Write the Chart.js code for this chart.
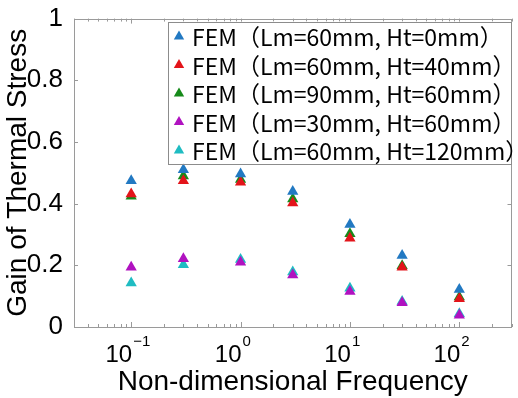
<!DOCTYPE html>
<html><head><meta charset="utf-8">
<script src="https://cdn.jsdelivr.net/npm/chart.js@4/dist/chart.umd.min.js"></script>
<style>html,body{margin:0;padding:0;background:#fff}canvas{display:block}</style>
</head><body>
<canvas id="c" width="518" height="398"></canvas>
<script>
const frequencies = [0.1, 0.3, 1, 3, 10, 30, 100];
const seriesLabels = [
  'FEM（Lm=60mm, Ht=0mm）',
  'FEM（Lm=60mm, Ht=40mm）',
  'FEM（Lm=90mm, Ht=60mm）',
  'FEM（Lm=30mm, Ht=60mm）',
  'FEM（Lm=60mm, Ht=120mm）'
];
const gainLm60Ht0   = [0.474, 0.510, 0.496, 0.439, 0.332, 0.232, 0.122];
const gainLm60Ht40  = [0.431, 0.474, 0.469, 0.402, 0.288, 0.194, 0.092];
const gainLm90Ht60  = [0.424, 0.490, 0.478, 0.415, 0.302, 0.199, 0.097];
const gainLm30Ht60  = [0.194, 0.221, 0.210, 0.169, 0.115, 0.079, 0.038];
const gainLm60Ht120 = [0.143, 0.202, 0.219, 0.178, 0.126, 0.083, 0.043];
const seriesColors = ['#2279c2', '#e3141a', '#168a1a', '#b012c0', '#1fbcc2'];
const yTickValues = [0, 0.2, 0.4, 0.6, 0.8, 1];
const yTickLabels = ['0', '0.2', '0.4', '0.6', '0.8', '1'];
const xTickValues = [0.1, 1, 10, 100];
const xTickBase = '10';
const xTickExponents = ['−1', '0', '1', '2'];

const allSeries = [gainLm60Ht0, gainLm60Ht40, gainLm90Ht60, gainLm30Ht60, gainLm60Ht120];
const datasets = allSeries.map((vals, i) => ({
  label: seriesLabels[i],
  data: frequencies.map((f, j) => ({x: f, y: vals[j]})),
  showLine: false,
  pointStyle: 'triangle',
  pointRadius: 6.5,
  pointHoverRadius: 6.5,
  backgroundColor: seriesColors[i],
  borderColor: seriesColors[i],
  borderWidth: 0
}));

const framePlugin = {
  id: 'frame',
  beforeDraw(chart) {
    const ctx = chart.ctx;
    ctx.save();
    ctx.fillStyle = '#fff';
    ctx.fillRect(0, 0, chart.width, chart.height);
    ctx.restore();
  },
  afterDatasetsDraw(chart) {
    const {ctx, chartArea: a, scales} = chart;
    const xs = scales.x, ys = scales.y;
    ctx.save();
    ctx.strokeStyle = '#9a9a9a';
    ctx.lineWidth = 1;
    ctx.beginPath();
    yTickValues.forEach(v => {
      const y = Math.round(ys.getPixelForValue(v)) + 0.5;
      ctx.moveTo(a.left, y); ctx.lineTo(a.left + 4, y);
      ctx.moveTo(a.right, y); ctx.lineTo(a.right - 4, y);
    });
    for (let e = -2; e <= 2; e++) {
      for (let m = 1; m <= 9; m++) {
        const v = m * Math.pow(10, e);
        if (v < xs.min || v > xs.max) continue;
        const x = Math.round(xs.getPixelForValue(v)) + 0.5;
        const len = m === 1 ? 5 : 3;
        ctx.moveTo(x, a.bottom); ctx.lineTo(x, a.bottom - len);
        ctx.moveTo(x, a.top); ctx.lineTo(x, a.top + len);
      }
    }
    ctx.stroke();
    ctx.strokeRect(Math.round(a.left) + 0.5, Math.round(a.top) + 0.5,
      Math.round(a.right - a.left) - 1, Math.round(a.bottom - a.top));
    ctx.fillStyle = '#000';
    xTickValues.forEach((v, i) => {
      const x = xs.getPixelForValue(v);
      ctx.font = '24px "Liberation Sans", Arial, sans-serif';
      ctx.textAlign = 'right';
      ctx.textBaseline = 'alphabetic';
      ctx.fillText(xTickBase, x + 1, a.bottom + 35);
      ctx.font = '15px "Liberation Sans", Arial, sans-serif';
      ctx.textAlign = 'left';
      ctx.fillText(xTickExponents[i], x + 2, a.bottom + 19);
    });
    const bx = a.left + 94, by = a.top + 3, bw = a.right - bx, bh = 142;
    ctx.fillStyle = '#fff';
    ctx.fillRect(bx, by, bw, bh);
    ctx.strokeStyle = '#8c8c8c';
    ctx.strokeRect(Math.round(bx) + 0.5, Math.round(by) + 0.5, Math.round(bw) - 1, bh);
    chart.data.datasets.forEach((ds, i) => {
      const cy = by + 15 + i * 28.5;
      const cx = bx + 11;
      const r = 6;
      ctx.fillStyle = ds.backgroundColor;
      ctx.beginPath();
      ctx.moveTo(cx, cy - r);
      ctx.lineTo(cx + r * 0.866, cy + r * 0.5);
      ctx.lineTo(cx - r * 0.866, cy + r * 0.5);
      ctx.closePath();
      ctx.fill();
      ctx.fillStyle = '#000';
      ctx.font = '23px "Noto Sans CJK JP", sans-serif';
      ctx.textAlign = 'left';
      ctx.textBaseline = 'middle';
      ctx.fillText(ds.label, bx + 24, cy + 1);
    });
    ctx.restore();
  }
};

new Chart(document.getElementById('c'), {
  type: 'scatter',
  data: {datasets},
  options: {
    responsive: false,
    animation: false,
    devicePixelRatio: 1,
    layout: {padding: {top: 18, right: 1, left: 0, bottom: 0}},
    plugins: {legend: {display: false}, tooltip: {enabled: false}},
    scales: {
      x: {
        type: 'logarithmic', min: 0.03, max: 300,
        grid: {display: false}, border: {display: false},
        ticks: {display: false},
        afterBuildTicks: s => { s.ticks = xTickValues.map(v => ({value: v})); },
        afterFit: s => { s.height = 71; },
        title: {display: true, text: 'Non-dimensional Frequency', color: '#000',
          font: {family: '"Liberation Sans", Arial, sans-serif', size: 28, lineHeight: 1.1}, padding: 0}
      },
      y: {
        min: 0, max: 1,
        grid: {display: false}, border: {display: false},
        afterBuildTicks: s => { s.ticks = yTickValues.map(v => ({value: v})); },
        afterFit: s => { s.width = 74; },
        ticks: {color: '#000', padding: 3,
          font: {family: '"Liberation Sans", Arial, sans-serif', size: 26},
          callback: (v) => yTickLabels[yTickValues.indexOf(v)] ?? ''},
        title: {display: true, text: 'Gain of Thermal Stress', color: '#000',
          font: {family: '"Liberation Sans", Arial, sans-serif', size: 28, lineHeight: 1.1}, padding: 3}
      }
    }
  },
  plugins: [framePlugin]
});
</script>
</body></html>
